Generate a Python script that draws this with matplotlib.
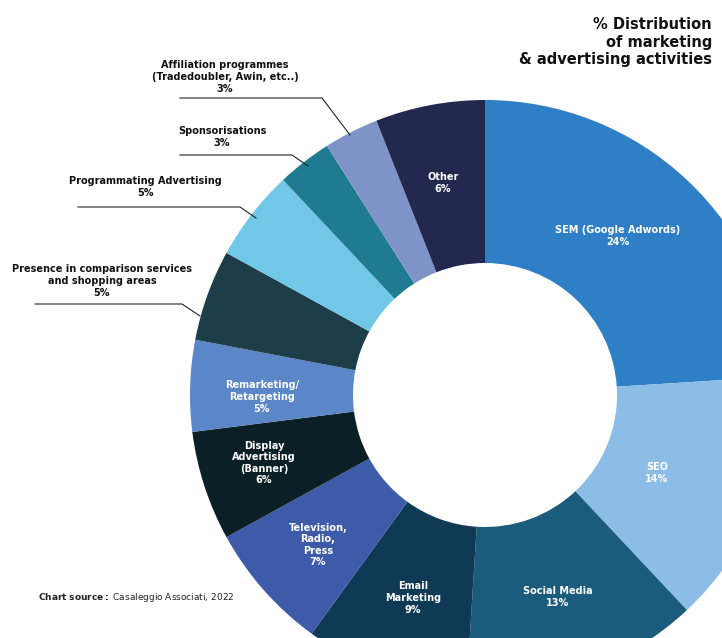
import matplotlib
matplotlib.use("Agg")
import matplotlib.pyplot as plt

categories = ["SEM (Google Adwords)", "SEO", "Social Media", "Email\nMarketing",
              "Television,\nRadio,\nPress", "Display\nAdvertising\n(Banner)",
              "Remarketing/\nRetargeting", "Presence in comparison services\nand shopping areas",
              "Programmating Advertising", "Sponsorisations",
              "Affiliation programmes\n(Tradedoubler, Awin, etc..)", "Other"]
values = [24, 14, 13, 9, 7, 6, 5, 5, 5, 3, 3, 6]
colors = ["#2e7fc6", "#8cbde6", "#1b5b7b", "#0e3a55", "#3e5ba9", "#0b1f27",
          "#5b86c8", "#1d3e49", "#70c7e7", "#1f7b91", "#7e94c9", "#23284f"]

W, H = 722, 638
fig = plt.figure(figsize=(W/100, H/100), dpi=100)
ax = fig.add_axes([0, 0, 1, 1])
cx, cy, R, r = 485, H-395, 295, 132
ax.pie(values, colors=colors, center=(cx, cy), radius=R, startangle=90,
       counterclock=False, wedgeprops=dict(width=R-r, linewidth=0))
ax.set_xlim(0, W); ax.set_ylim(0, H); ax.set_aspect("equal"); ax.axis("off")

def T(x, y, s, **kw):
    ax.text(x, H-y, s, ha="center", va="center", fontsize=7, fontweight="bold",
            family="DejaVu Sans", linespacing=1.2, **kw)

inside = {0: (618, 236), 1: (657, 473), 2: (558, 597), 3: (413, 598),
          4: (318, 545), 5: (264, 463), 6: (262, 397), 11: (443, 183)}
for i, (x, y) in inside.items():
    T(x, y, f"{categories[i]}\n{values[i]}%", color="white")

outside = {10: (225, 77, [(180, 98), (322, 98), (350, 135)]),
           9: (222, 137, [(180, 155), (292, 155), (308, 166)]),
           8: (145, 187, [(78, 207), (240, 207), (256, 218)]),
           7: (102, 281, [(35, 304), (182, 304), (200, 316)])}
for i, (x, y, pts) in outside.items():
    T(x, y, f"{categories[i]}\n{values[i]}%", color="#111111")
    ax.plot([p[0] for p in pts], [H-p[1] for p in pts], color="#222222", lw=0.8)

ax.text(712, H-42, "% Distribution\nof marketing\n& advertising activities", ha="right",
        va="center", fontsize=10.5, fontweight="bold", color="#111111", linespacing=1.2)
ax.text(38, H-598, r"$\bf{Chart\ source:}$ Casaleggio Associati, 2022", fontsize=6.5,
        va="center", color="#222222")
fig.savefig("out.png", dpi=100, facecolor="white")
